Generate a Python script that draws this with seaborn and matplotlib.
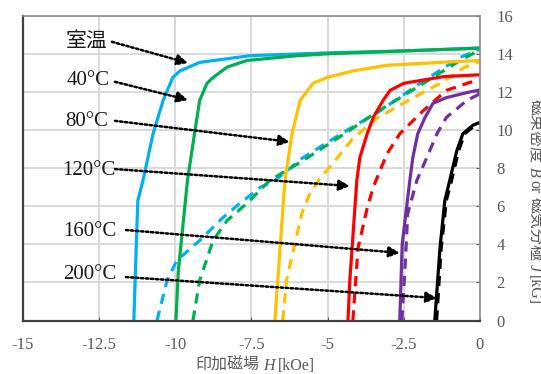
import matplotlib
matplotlib.use('Agg')
import matplotlib.pyplot as plt
from matplotlib.transforms import IdentityTransform
import seaborn as sns
import pandas as pd

# curve data: H [kOe], B or J [kG]
temps = ['室温', '40°C', '80°C', '120°C', '160°C', '200°C']
colors = ['#00B0F0', '#00B050', '#FFC000', '#FF0000', '#7030A0', '#000000']

# solid curves
rt_H = [-11.36, -11.3, -11.23, -11.06, -10.73, -10.4, -10.08, -9.85, -9.2, -7.55, -5.0, -2.5, 0]
rt_B = [0, 3.0, 6.3, 7.35, 9.8, 11.55, 12.76, 13.1, 13.55, 13.9, 14.05, 14.15, 14.3]
t40_H = [-9.98, -9.9, -9.6, -9.35, -9.2, -8.96, -8.76, -8.3, -7.65, -6.0, -5.0, -2.5, 0]
t40_B = [0, 2.6, 7.35, 10.0, 11.55, 12.45, 12.76, 13.3, 13.65, 13.9, 14.0, 14.15, 14.3]
t80_H = [-6.73, -6.55, -6.4, -6.17, -5.9, -5.48, -5.02, -4.17, -3.05, -1.3, 0]
t80_B = [0, 4.0, 7.35, 9.8, 11.55, 12.45, 12.76, 13.1, 13.4, 13.55, 13.65]
t120_H = [-4.33, -4.27, -4.04, -3.94, -3.7, -3.5, -3.18, -2.95, -2.5, -1.95, -1.2, 0]
t120_B = [0, 2.1, 7.35, 8.56, 9.8, 10.66, 11.55, 12.08, 12.45, 12.6, 12.8, 12.9]
t160_H = [-2.63, -2.55, -2.3, -2.2, -2.04, -1.8, -1.54, -1.1, -0.33, 0]
t160_B = [0, 4.0, 7.35, 8.56, 9.8, 10.66, 11.4, 11.7, 12.0, 12.1]
t200_H = [-1.48, -1.31, -1.15, -0.99, -0.76, -0.56, -0.23, 0]
t200_B = [0, 3.8, 6.3, 7.35, 8.9, 9.8, 10.25, 10.4]

# dashed curves
rt_dH = [-10.6, -10.27, -9.95, -9.2, -8.44, -7.88, -7.2, -6.73, -5.8, -4.37, -3.28, -1.97, -0.66, 0]
rt_dB = [0, 2.1, 3.15, 4.2, 5.4, 6.15, 7.0, 7.35, 8.56, 9.98, 11.0, 12.45, 13.8, 14.25]
t40_dH = [-9.42, -9.2, -8.76, -8.3, -7.65, -6.9, -5.8, -4.4, -3.38, -2.0, -0.7, 0]
t40_dB = [0, 2.1, 4.2, 5.25, 6.15, 7.35, 8.4, 9.85, 10.95, 12.3, 13.6, 14.2]
t80_dH = [-6.47, -6.35, -6.07, -5.85, -5.6, -5.3, -4.8, -4.2, -3.4, -2.3, -1.3, -0.5, 0]
t80_dB = [0, 2.1, 4.05, 5.6, 6.6, 7.35, 8.3, 9.5, 10.6, 11.6, 12.45, 13.3, 13.6]
t120_dH = [-4.17, -4.0, -3.7, -3.5, -3.05, -2.63, -1.87, -1.1, -0.33, 0]
t120_dB = [0, 3.8, 5.9, 7.0, 8.75, 9.8, 11.0, 12.08, 12.5, 12.6]
t160_dH = [-2.56, -2.45, -2.37, -2.07, -1.74, -1.41, -1.1, -0.43, 0]
t160_dB = [0, 3.0, 5.6, 7.35, 8.56, 9.8, 10.66, 11.55, 11.9]
t200_dH = [-1.42, -1.27, -1.1, -0.93, -0.7, -0.5, -0.2, 0]
t200_dB = [0, 3.8, 6.3, 7.35, 8.9, 9.8, 10.2, 10.35]

# label text position (right edge), arrow start and arrow tip in data coords
label_pos = [(-12.21, 14.63), (-12.14, 12.58), (-12.21, 10.43), (-11.98, 7.9), (-11.92, 4.65), (-11.92, 2.39)]
arrow_from = [(-12.08, 14.63), (-11.98, 12.53), (-11.98, 10.48), (-11.98, 7.95), (-11.62, 4.75), (-11.62, 2.28)]
arrow_to = [(-9.585, 13.52), (-9.585, 11.58), (-6.24, 9.38), (-4.27, 7.06), (-2.63, 3.55), (-1.41, 1.18)]

xlabel_parts = [('印加磁場', 'normal'), ('H', 'italic'), ('[kOe]', 'normal')]
ylabel_parts = [('磁束密度', 'normal'), ('B', 'italic'), ('or', 'normal'), ('磁気分極', 'normal'),
                ('J', 'italic'), ('[kG]', 'normal')]

solid = [(rt_H, rt_B), (t40_H, t40_B), (t80_H, t80_B), (t120_H, t120_B), (t160_H, t160_B), (t200_H, t200_B)]
dashed = [(rt_dH, rt_dB), (t40_dH, t40_dB), (t80_dH, t80_dB), (t120_dH, t120_dB), (t160_dH, t160_dB), (t200_dH, t200_dB)]

rows = []
for t, (hs, bs) in zip(temps, solid):
    for h, b in zip(hs, bs):
        rows.append({'H': h, 'B': b, 'temp': t, 'kind': 'solid'})
for t, (hs, bs) in zip(temps, dashed):
    for h, b in zip(hs, bs):
        rows.append({'H': h, 'B': b, 'temp': t, 'kind': 'dashed'})
df = pd.DataFrame(rows)

sns.set_style('white')
plt.rcParams['font.family'] = ['Liberation Serif', 'Noto Sans CJK JP']

fig = plt.figure(figsize=(5.41, 3.74), dpi=100)
ax = fig.add_axes([0.0425, 0.143, 0.8445, 0.815])

gray = '#595959'
sns.lineplot(data=df, x='H', y='B', hue='temp', style='kind', sort=False, estimator=None,
             palette=dict(zip(temps, colors)), dashes={'solid': '', 'dashed': (3.2, 2.2)},
             hue_order=temps, lw=2.3, legend=False, ax=ax)
ax.set_xlabel('')
ax.set_ylabel('')

ax.set_xlim(-15, 0)
ax.set_ylim(0, 16)
ax.set_xticks([-15, -12.5, -10, -7.5, -5, -2.5, 0])
ax.set_xticklabels(['-15', '-12.5', '-10', '-7.5', '-5', '-2.5', '0'])
ax.set_yticks(range(0, 17, 2))
ax.grid(True, color='#D9D9D9', lw=1.4)
ax.set_axisbelow(True)

for t, lp, a0, a1 in zip(temps, label_pos, arrow_from, arrow_to):
    ax.text(lp[0], lp[1], t, ha='right', va='center', fontsize=15, color='#1a1a1a')
    ax.annotate('', xy=a1, xytext=a0,
                arrowprops=dict(arrowstyle='-|>', ls=(0, (1, 1)), lw=1.8, color='black',
                                mutation_scale=16, shrinkA=0, shrinkB=0))

ax.yaxis.tick_right()
ax.tick_params(axis='y', labelsize=12, labelcolor=gray, direction='in', length=3, color=gray, pad=12)
ax.tick_params(axis='x', labelsize=12, labelcolor=gray, direction='in', length=3, color=gray, pad=12)
ax.tick_params(left=False, bottom=True)

for side in ['left', 'bottom']:
    ax.spines[side].set_color('#404040')
    ax.spines[side].set_linewidth(1.6)
for side in ['top', 'right']:
    ax.spines[side].set_color('#8c8c8c')
    ax.spines[side].set_linewidth(1.2)


def label_in_parts(parts, center, base, rotation, size=11.5, gap=3.5):
    # lay out text pieces one after another so that CJK, serif and italic can mix
    fig.canvas.draw()
    renderer = fig.canvas.get_renderer()
    items = []
    for s, st in parts:
        t = fig.text(0, 0, s, transform=IdentityTransform(), fontsize=size, style=st, color=gray,
                     rotation=rotation, rotation_mode='anchor', ha='left', va='baseline')
        bb = t.get_window_extent(renderer)
        items.append((t, bb.height if rotation else bb.width))
    total = sum(n for _, n in items) + gap * (len(items) - 1)
    pos = center - total / 2 if not rotation else center + total / 2
    for t, n in items:
        if rotation:
            t.set_position((base, pos))
            pos -= n + gap
        else:
            t.set_position((pos, base))
            pos += n + gap


label_in_parts(xlabel_parts, 255, 4, 0)
label_in_parts(ylabel_parts, 374 - 202, 530, 270)

fig.savefig('out.png', dpi=100)
